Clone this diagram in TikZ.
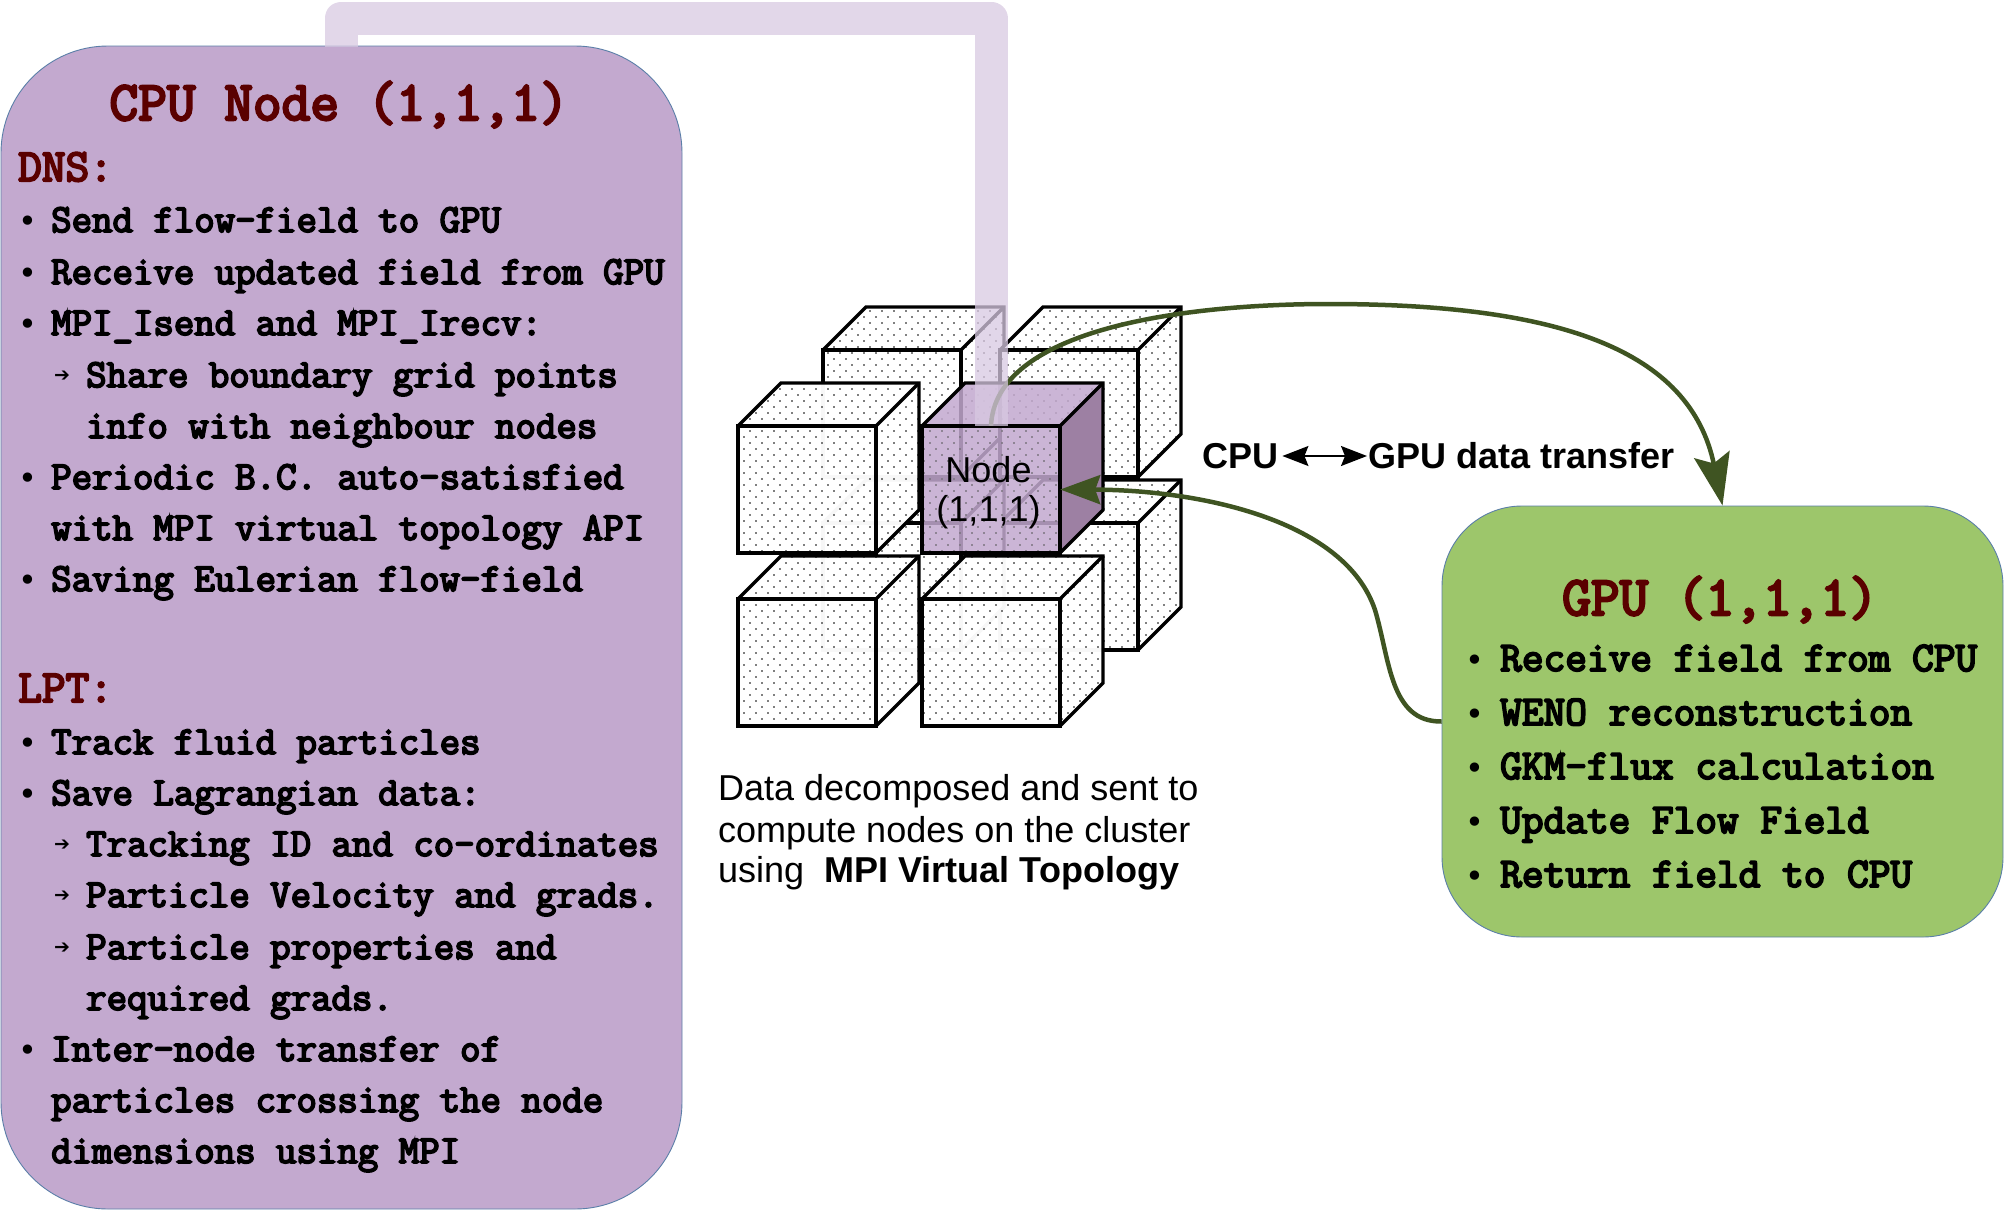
\documentclass[tikz,border=0pt]{standalone}
\usepackage{fontspec}
\setmainfont{Liberation Sans}
\newfontfamily\symfont{DejaVu Sans}
\setmonofont{Latin Modern Mono}[BoldFont=Latin Modern Mono,BoldFeatures={FakeBold=4.5}]
\usetikzlibrary{arrows.meta}
\definecolor{cpufill}{HTML}{C3A9CF}
\definecolor{gpufill}{HTML}{9DC66B}
\definecolor{boxline}{HTML}{5B7FA8}
\definecolor{heading}{HTML}{5A0000}
\definecolor{linkgreen}{HTML}{3F5422}
\definecolor{pipecol}{RGB}{216,201,226}
\definecolor{sidepurple}{HTML}{9D80A3}
\tikzset{
  x=1pt,y=-1pt,
  cpubox/.style={draw=boxline,line width=0.9pt,fill=cpufill,rounded corners=107pt,minimum width=681pt,minimum height=1163pt,inner sep=0pt},
  gpubox/.style={draw=boxline,line width=0.9pt,fill=gpufill,rounded corners=80pt,minimum width=561pt,minimum height=431pt,inner sep=0pt},
  monoline/.style={anchor=base west,inner sep=0pt,font=\fontsize{39.7}{40}\selectfont\ttfamily\bfseries},
  gpuline/.style={anchor=base west,inner sep=0pt,font=\fontsize{42.1}{43}\selectfont\ttfamily\bfseries},
  headline/.style={monoline,text=heading,font=\fontsize{46}{46}\selectfont\ttfamily\bfseries},
  titleline/.style={anchor=base,inner sep=0pt,text=heading,font=\fontsize{55.7}{56}\selectfont\ttfamily\bfseries},
  sansline/.style={anchor=base west,inner sep=0pt,font=\fontsize{36}{36}\selectfont},
  boldline/.style={anchor=base west,inner sep=0pt,font=\fontsize{36}{36}\selectfont\bfseries},
  bulletmark/.style={anchor=base west,inner sep=0pt,font=\fontsize{32}{32}\selectfont\symfont},
  arrowmark/.style={anchor=base west,inner sep=0pt,font=\fontsize{19}{19}\selectfont\symfont},
  link/.style={draw=linkgreen,line width=4.5pt},
  edgeblack/.style={draw=black,line width=3.3pt,line join=miter},
}
% dots on a staggered lattice: 12 across, rows 6 apart
\newcommand{\dotgrid}[5]{%
  \pgfmathtruncatemacro\jst{(#2-5)/6}%
  \pgfmathtruncatemacro\ist{#1/12}%
  \foreach \j in {0,...,#4}{%
    \pgfmathsetmacro\yy{5+6*(\jst+\j)}%
    \pgfmathsetmacro\xo{12*\ist+6*mod(\jst+\j,2)}%
    \foreach \i in {0,...,#3}{\fill[#5] (\xo+12*\i,\yy) circle (0.95pt);}%
  }%
}
\newcommand{\cubeshape}[3]{%
  \fill[white,fill opacity=#3] (#1,#2) -- ++(43,-43) -- ++(138,0) -- ++(0,127) -- ++(-43,43) -- ++(-138,0) -- cycle;
  \begin{scope}
    \clip (#1,#2) -- ++(43,-43) -- ++(138,0) -- ++(0,127) -- ++(-43,43) -- ++(-138,0) -- cycle;
    \dotgrid{#1}{#2-43}{16}{29}{black}
  \end{scope}
  \draw[edgeblack] (#1,#2) rectangle ++(138,127);
  \draw[edgeblack] (#1,#2) -- ++(43,-43) -- ++(138,0) -- ++(0,127) -- ++(-43,43);
  \draw[edgeblack] (#1+138,#2) -- ++(43,-43);
}
\begin{document}
\begin{tikzpicture}
\useasboundingbox (0,0) rectangle (2004,1210);
% back cubes
\cubeshape{823}{350}{1}
\cubeshape{1000}{350}{1}
\cubeshape{1000}{523}{1}
\cubeshape{823}{523}{1}
% front cubes
\cubeshape{738}{426}{.97}
\cubeshape{738}{599}{.97}
\cubeshape{922}{599}{.97}
% highlighted node cube
\fill[cpufill,fill opacity=.85] (922,426) -- ++(43,-43) -- ++(138,0) -- ++(-43,43) -- cycle;
\fill[sidepurple] (1060,426) -- ++(43,-43) -- ++(0,127) -- ++(-43,43) -- cycle;
\fill[cpufill,fill opacity=.85] (922,426) rectangle ++(138,127);
\begin{scope}
  \clip (922,426) rectangle ++(138,127);
  \dotgrid{922}{426}{12}{22}{black!60}
\end{scope}
\draw[edgeblack] (922,426) rectangle ++(138,127);
\draw[edgeblack] (922,426) -- ++(43,-43) -- ++(138,0) -- ++(0,127) -- ++(-43,43);
\draw[edgeblack] (1060,426) -- ++(43,-43);
\node[minimum width=138pt,minimum height=127pt,inner sep=0pt] (n111) at (991,489.5) {};
\node[inner sep=0pt,align=center,font=\fontsize{36}{40}\selectfont] (n111text) at (988.5,493) {Node\\[-1pt](1,1,1)};
% boxes
\node[cpubox] (cpu) at (341.5,627.5) {};
\node[gpubox] (gpu) at (1722.5,721.5) {};
% curve CPU side to GPU
\draw[link,-{Stealth[length=52pt,width=36pt,inset=9pt,fill=linkgreen]}] (n111.north) .. controls (995,330) and (1180,304) .. (1329,304) .. controls (1560,304) and (1690,350) .. (gpu.north);
% pipe
\coordinate (pipetop) at (991,426);
\coordinate (pipecpu) at (341,47);
\draw[pipecol,draw opacity=.75,line width=33pt,line join=round] (pipecpu) -- (341,18) -- (991,18) -- (pipetop);
% curve GPU to node
\draw[link,-{Stealth[length=40pt,width=29pt,inset=5pt,fill=linkgreen]}] (gpu.west) .. controls (1390,722) and (1390,660) .. (1375,610) .. controls (1345,520) and (1200,490) .. (n111.east);
% CPU texts
\node[titleline] (t0) at (339,120) {CPU Node (1,1,1)};
\node[headline] (t1) at (18,181) {DNS:};
\node[bulletmark] (b1) at (18,232) {•};
\node[monoline] (t2) at (51,232) {Send flow-field to GPU};
\node[bulletmark] (b2) at (18,284) {•};
\node[monoline] (t3) at (51,284) {Receive updated field from GPU};
\node[bulletmark] (b3) at (18,335) {•};
\node[monoline] (t4) at (51,335) {MPI\_Isend and MPI\_Irecv:};
\node[arrowmark] (a1) at (54,381) {➔};
\node[monoline] (t5) at (86,387) {Share boundary grid points};
\node[monoline] (t6) at (86,438) {info with neighbour nodes};
\node[bulletmark] (b4) at (18,489) {•};
\node[monoline] (t7) at (51,489) {Periodic B.C. auto-satisfied};
\node[monoline] (t8) at (51,540) {with MPI virtual topology API};
\node[bulletmark] (b5) at (18,591) {•};
\node[monoline] (t9) at (51,591) {Saving Eulerian flow-field};
\node[headline] (t10) at (18,702) {LPT:};
\node[bulletmark] (b6) at (18,754) {•};
\node[monoline] (t11) at (51,754) {Track fluid particles};
\node[bulletmark] (b7) at (18,805) {•};
\node[monoline] (t12) at (51,805) {Save Lagrangian data:};
\node[arrowmark] (a2) at (54,850) {➔};
\node[monoline] (t13) at (86,856) {Tracking ID and co-ordinates};
\node[arrowmark] (a3) at (54,901) {➔};
\node[monoline] (t14) at (86,907) {Particle Velocity and grads.};
\node[arrowmark] (a4) at (54,953) {➔};
\node[monoline] (t15) at (86,959) {Particle properties and};
\node[monoline] (t16) at (86,1010) {required grads.};
\node[bulletmark] (b8) at (18,1061) {•};
\node[monoline] (t17) at (51,1061) {Inter-node transfer of};
\node[monoline] (t18) at (51,1112) {particles crossing the node};
\node[monoline] (t19) at (51,1163) {dimensions using MPI};
% GPU texts
\node[titleline] (g0) at (1720,615) {GPU (1,1,1)};
\node[bulletmark] (gb1) at (1465,671) {•};
\node[gpuline] (g1) at (1500,671) {Receive field from CPU};
\node[bulletmark] (gb2) at (1465,725) {•};
\node[gpuline] (g2) at (1500,725) {WENO reconstruction};
\node[bulletmark] (gb3) at (1465,779) {•};
\node[gpuline] (g3) at (1500,779) {GKM-flux calculation};
\node[bulletmark] (gb4) at (1465,833) {•};
\node[gpuline] (g4) at (1500,833) {Update Flow Field};
\node[bulletmark] (gb5) at (1465,887) {•};
\node[gpuline] (g5) at (1500,887) {Return field to CPU};
% labels
\node[boldline] (lcpu) at (1202,468) {CPU};
\node[boldline] (lgpu) at (1368,468) {GPU data transfer};
\draw[black,line width=1.5pt,{Stealth[length=26pt,width=20pt,inset=4pt]}-{Stealth[length=26pt,width=20pt,inset=4pt]}] (lcpu.east |- 0,456) ++(4,0) coordinate (la) -- (1367,456) coordinate (lb);
% caption
\node[sansline] (c1) at (718,800) {Data decomposed and sent to};
\node[sansline] (c2) at (718,842) {compute nodes on the cluster};
\node[sansline] (c3) at (718,882) {using \ \textbf{MPI Virtual Topology}};
\end{tikzpicture}
\end{document}
